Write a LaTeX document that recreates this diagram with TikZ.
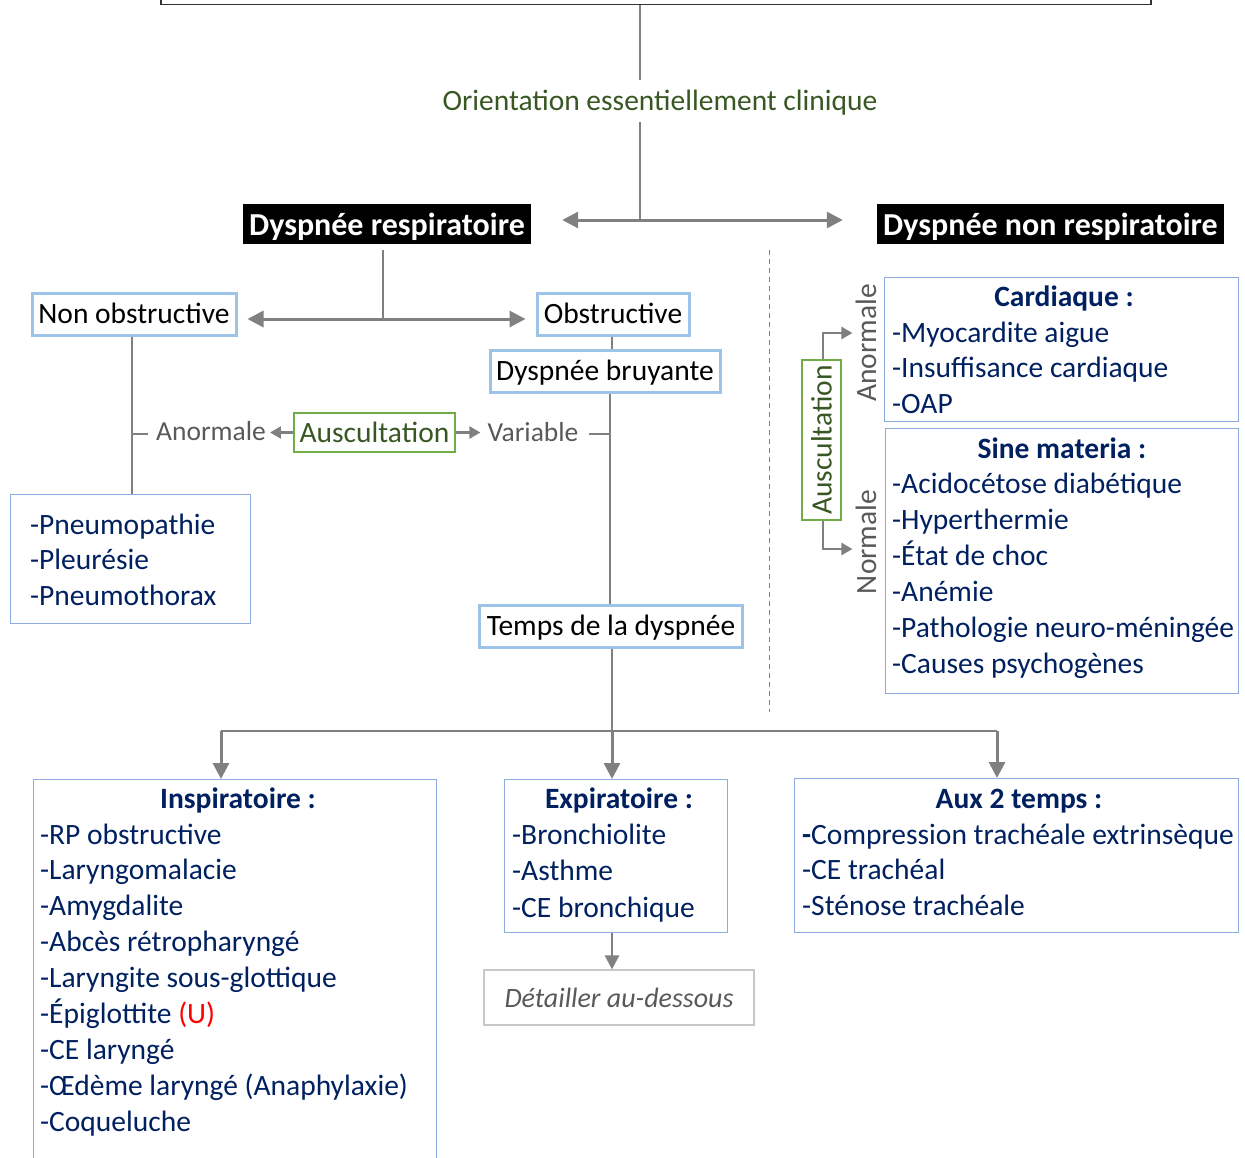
\documentclass[tikz,border=0pt]{standalone}
\usepackage{fontspec}
\setmainfont{Carlito}
\usetikzlibrary{arrows.meta}
\definecolor{navy}{RGB}{0,32,96}
\definecolor{dgreen}{RGB}{56,87,35}
\definecolor{lgreen}{RGB}{112,173,71}
\definecolor{linegray}{RGB}{128,128,128}
\definecolor{labgray}{RGB}{89,89,89}
\definecolor{thickblue}{RGB}{157,195,230}
\definecolor{thinblue}{RGB}{143,170,220}
\definecolor{boxgray}{RGB}{200,200,200}
\tikzset{
  x=1pt, y=-1pt,
  txt/.style={font=\fontsize{29.5}{36}\selectfont, inner sep=0pt},
  head/.style={txt, fill=black, text=white, font=\fontsize{32}{38}\selectfont\bfseries, minimum height=40, inner sep=0pt, text height=28pt, text depth=6pt},
  bluebox/.style={txt, draw=thickblue, line width=3pt, minimum height=42, text height=24pt, text depth=6pt},
  greenbox/.style={txt, draw=lgreen, line width=2pt, text=dgreen},
  listbox/.style={draw=thinblue, line width=1.2pt, anchor=north west, inner sep=0pt},
  title/.style={txt, text=navy, font=\fontsize{29.5}{36}\selectfont\bfseries, anchor=base},
  item/.style={txt, text=navy, anchor=base west},
  lab/.style={txt, text=labgray},
  smalllab/.style={lab, font=\fontsize{27.5}{33}\selectfont},
  conn/.style={draw=linegray, line width=2pt},
  bigarrow/.style={draw=linegray, line width=3pt, arrows={-Triangle[length=16pt,width=16pt]}},
  dblarrow/.style={draw=linegray, line width=3pt, arrows={Triangle[length=16pt,width=16pt]-Triangle[length=16pt,width=16pt]}},
  midarrow/.style={draw=linegray, line width=2.5pt, arrows={-Triangle[length=14pt,width=14pt]}},
  smallarrow/.style={draw=linegray, line width=2.5pt, arrows={-Triangle[length=11pt,width=12pt]}},
}
\begin{document}
\begin{tikzpicture}
\useasboundingbox (0,0) rectangle (1245,1157);

% heading frame, running off the top edge
\node[draw=black!80, line width=1.5pt, minimum width=990, minimum height=60, anchor=south west, inner sep=0pt] (title) at (160,5) {};

\node[txt, text=dgreen] (orient) at (660,103) {Orientation essentiellement clinique};
\draw[draw=linegray, line width=1.5pt] (title.south -| 640,0) -- (640,80);
\coordinate (split) at (640,220);
\draw[conn] (640,122) -- (split);

% the two main branches
\node[head, minimum width=288] (resp) at (387,224) {Dyspnée respiratoire};
\node[head, minimum width=347] (nonresp) at (1050.5,224) {Dyspnée non respiratoire};
\draw[dblarrow, shorten <=31pt, shorten >=34pt] (resp.east |- split) -- (nonresp.west |- split);

% respiratory side
\node[bluebox, minimum width=204] (nonobs) at (134,314) {Non obstructive};
\node[bluebox, minimum width=152] (obs) at (613,314) {Obstructive};
\coordinate (split2) at (383,319);
\draw[conn] ([yshift=-6pt]resp.south -| split2) -- (split2);
\draw[dblarrow, shorten <=10pt, shorten >=10pt] (nonobs.east |- split2) -- (obs.west |- split2);

\node[bluebox, minimum width=230] (bruy) at (605,371) {Dyspnée bruyante};
\draw[conn] (obs.south -| 612,0) -- (bruy.north -| 612,0);

\node[bluebox, minimum width=263] (temps) at (611,626) {Temps de la dyspnée};
\draw[conn] (bruy.south -| 610,0) -- (temps.north -| 610,0);

\node[greenbox, minimum width=161, minimum height=39] (ausc) at (374.5,432.5) {Auscultation};
\node[smalllab] (anorm) at (211,431) {Anormale};
\node[smalllab] (variab) at (533,432) {Variable};
\draw[smallarrow] (ausc.west) -- ([xshift=4pt]anorm.east |- ausc.west);
\draw[smallarrow] (ausc.east) -- ([xshift=-7pt]variab.west |- ausc.east);
\draw[conn] ([xshift=10pt]variab.east |- 0,434) -- (610,434);

\node[listbox, minimum width=240, minimum height=129] (pneumo) at (10,494) {};
\draw[conn] (nonobs.south -| 132,0) -- (pneumo.north -| 132,0);
\draw[conn] (132,434) -- ([xshift=-8pt]anorm.west |- 0,434);
\foreach \t [count=\i] in {-Pneumopathie,-Pleurésie,-Pneumothorax}
  \node[item] (pn\i) at (30,{534+35.5*(\i-1)}) {\t};

% separator between the two sides
\draw[draw=linegray, line width=1pt, dash pattern=on 5pt off 4pt] (769,250) -- (769,712);

% timing of the dyspnea
\coordinate (split3) at (612,731);
\node[listbox, minimum width=403, minimum height=400] (insp) at (33,779) {};
\node[listbox, minimum width=223, minimum height=153] (expi) at (504,779) {};
\node[listbox, minimum width=444, minimum height=154] (aux) at (794,778) {};
\draw[conn] (temps.south -| split3) -- (split3);
\draw[conn] (221,731) -- (997,731);
\draw[bigarrow] (split3) -- (expi.north -| split3);
\draw[bigarrow] (221,731) -- (insp.north -| 221,0);
\draw[bigarrow] (997,731) -- (aux.north -| 997,0);

\node[title] (insptitle) at (238,808) {Inspiratoire :};
\foreach \t [count=\i] in {-RP obstructive,-Laryngomalacie,-Amygdalite,-Abcès rétropharyngé,-Laryngite sous-glottique,{-Épiglottite {\color{red}(U)}},-CE laryngé,-Œdème laryngé (Anaphylaxie),-Coqueluche}
  \node[item] (insp\i) at (40,{844+35.9*(\i-1)}) {\t};

\node[title] (expititle) at (619,808) {Expiratoire :};
\foreach \t [count=\i] in {-Bronchiolite,-Asthme,-CE bronchique}
  \node[item] (expi\i) at (512,{844+36.5*(\i-1)}) {\t};

\node[title] (auxtitle) at (1019,808) {Aux 2 temps :};
\foreach \t [count=\i] in {{\bfseries-}Compression trachéale extrinsèque,-CE trachéal,-Sténose trachéale}
  \node[item] (aux\i) at (802,{844+35.5*(\i-1)}) {\t};

\node[draw=boxgray, line width=1.2pt, minimum width=270, minimum height=55, inner sep=0pt, txt, text=labgray, font=\fontsize{28}{34}\selectfont\itshape] (detail) at (619,997.5) {Détailler au-dessous};
\draw[midarrow] (expi.south -| 612,0) -- (detail.north -| 612,0);

% non-respiratory side
\node[listbox, minimum width=354, minimum height=144] (card) at (884,277) {};
\node[title] (cardtitle) at (1064,306) {Cardiaque :};
\foreach \t [count=\i] in {-Myocardite aigue,-Insuffisance cardiaque,-OAP}
  \node[item] (card\i) at (892,{342+35.5*(\i-1)}) {\t};

\node[listbox, minimum width=353, minimum height=265] (sine) at (885,428) {};
\node[title] (sinetitle) at (1062,458) {Sine materia :};
\foreach \t [count=\i] in {-Acidocétose diabétique,-Hyperthermie,-État de choc,-Anémie,-Pathologie neuro-méningée,-Causes psychogènes}
  \node[item] (sine\i) at (892,{493+36*(\i-1)}) {\t};

\node[greenbox, rotate=90, minimum width=160, minimum height=39] (ausc2) at (821.5,440) {Auscultation};
\node[lab, rotate=90] (anorm2) at (866,343) {Anormale};
\node[lab, rotate=90] (norm2) at (866,542) {Normale};
\draw[smallarrow] (ausc2.east -| 823,0) -- (823,333) -- ([xshift=-3pt]anorm2.north |- 0,333);
\draw[smallarrow] (ausc2.west -| 823,0) -- (823,549) -- ([xshift=-3pt]norm2.north |- 0,549);
\end{tikzpicture}
\end{document}
